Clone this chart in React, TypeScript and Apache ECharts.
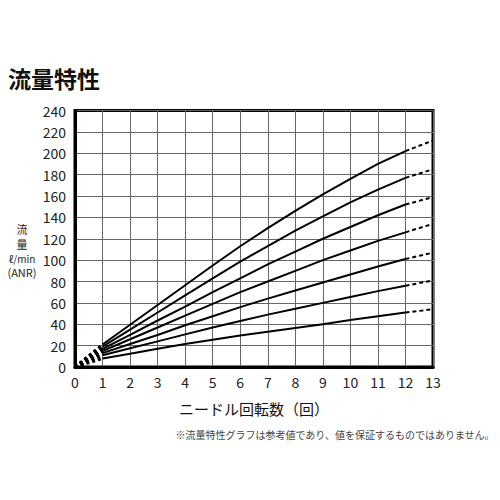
import React, { useEffect, useRef } from "react";
import * as echarts from "echarts";

// 圧力ごとの流量（ニードル回転数 1〜13回）
const turns = [1, 2, 3, 4, 5, 6, 7, 8, 9, 10, 11, 12, 13];
const pressures = ["0.7MPa", "0.6MPa", "0.5MPa", "0.4MPa", "0.3MPa", "0.2MPa", "0.1MPa"];
const flow07 = [21, 39.5, 58, 76.5, 95, 113, 130, 146, 161.5, 176, 190, 202, 212];
const flow06 = [19, 35, 51, 67, 83, 98.5, 113, 127.5, 141, 154, 166, 177, 185];
const flow05 = [17, 30, 43.5, 56.5, 70, 83, 96, 108, 120, 131, 142, 152, 159];
const flow04 = [15, 26, 37, 48, 59, 70, 80, 90, 100, 109, 118, 126, 134];
const flow03 = [13, 21.5, 30, 39, 47.5, 56, 64, 71.5, 79, 86.5, 94, 101, 107];
const flow02 = [11, 17.5, 24, 30.5, 37, 43, 49, 54.5, 60, 65.5, 71, 76, 81];
const flow01 = [8, 12.5, 17, 21.5, 25.5, 29.5, 33, 36.5, 40, 44, 47.5, 51, 54];
const flows = [flow07, flow06, flow05, flow04, flow03, flow02, flow01];

const FONT = "'Noto Sans CJK JP', 'Noto Sans', sans-serif";

export default function App() {
  const chartRef = useRef<HTMLDivElement>(null);

  useEffect(() => {
    if (!chartRef.current) return;
    const chart = echarts.init(chartRef.current, undefined, { renderer: "svg" });

    const series: any[] = [];
    flows.forEach((v, k) => {
      const last = turns.length - 1;
      // 0〜1回は破線
      series.push({
        type: "line",
        data: [[0, 0], [turns[0], v[0]]],
        symbol: "none",
        silent: true,
        lineStyle: { color: "#000", width: 3, type: [3, 3] },
      });
      // 1〜12回は実線
      series.push({
        type: "line",
        data: turns.slice(0, last).map((t, i) => [t, v[i]]),
        symbol: "none",
        silent: true,
        lineStyle: { color: "#000", width: 2, join: "round" },
      });
      // 12〜13回は破線＋ラベル
      series.push({
        type: "line",
        data: [
          [turns[last - 1], v[last - 1]],
          {
            value: [turns[last], v[last]],
            label: {
              show: true,
              position: "right",
              distance: 7,
              formatter: pressures[k],
              color: "#222",
              fontSize: 13,
              fontFamily: FONT,
            },
          },
        ],
        symbol: "none",
        silent: true,
        lineStyle: { color: "#000", width: 2, type: [4, 3] },
      });
    });

    chart.setOption({
      animation: false,
      grid: {
        left: 75,
        right: 67,
        top: 110.5,
        bottom: 133,
        show: true,
        borderColor: "#000",
        borderWidth: 3,
      },
      xAxis: {
        type: "value",
        min: 0,
        max: 13,
        interval: 1,
        axisLine: { show: true, lineStyle: { color: "#000", width: 3 } },
        axisTick: { show: false },
        axisLabel: { color: "#222", fontSize: 14, margin: 8, fontFamily: FONT },
        splitLine: { show: true, lineStyle: { color: "#666", width: 1 } },
      },
      yAxis: {
        type: "value",
        min: 0,
        max: 240,
        interval: 20,
        axisLine: { show: true, lineStyle: { color: "#000", width: 3 } },
        axisTick: { show: false },
        axisLabel: { color: "#222", fontSize: 14, margin: 9, fontFamily: FONT },
        splitLine: { show: true, lineStyle: { color: "#666", width: 1 } },
      },
      graphic: [
        {
          type: "text",
          left: 8,
          top: 66,
          style: { text: "流量特性", fontSize: 23, fontWeight: "bold", fill: "#111", fontFamily: FONT },
        },
        {
          type: "text",
          x: 22,
          y: 229,
          style: { text: "流", fontSize: 11, fill: "#222", align: "center", verticalAlign: "middle", fontFamily: FONT },
        },
        {
          type: "text",
          x: 22,
          y: 244,
          style: { text: "量", fontSize: 11, fill: "#222", align: "center", verticalAlign: "middle", fontFamily: FONT },
        },
        {
          type: "text",
          x: 22,
          y: 258,
          style: { text: "ℓ/min", fontSize: 10, fill: "#222", align: "center", verticalAlign: "middle", fontFamily: FONT },
        },
        {
          type: "text",
          x: 22,
          y: 272,
          style: { text: "(ANR)", fontSize: 11, fill: "#222", align: "center", verticalAlign: "middle", fontFamily: FONT },
        },
        {
          type: "text",
          x: 254,
          y: 408,
          style: { text: "ニードル回転数（回）", fontSize: 15, fill: "#111", align: "center", verticalAlign: "middle", fontFamily: FONT },
        },
        {
          type: "text",
          x: 335,
          y: 434,
          style: {
            text: "※流量特性グラフは参考値であり、値を保証するものではありません。",
            fontSize: 10,
            fill: "#444",
            align: "center",
            verticalAlign: "middle",
            fontFamily: FONT,
          },
        },
      ],
      series,
    });

    return () => {
      chart.dispose();
    };
  }, []);

  return (
    <div
      ref={chartRef}
      style={{ position: "absolute", left: 0, top: 0, width: "500px", height: "500px", background: "#fff" }}
    />
  );
}
